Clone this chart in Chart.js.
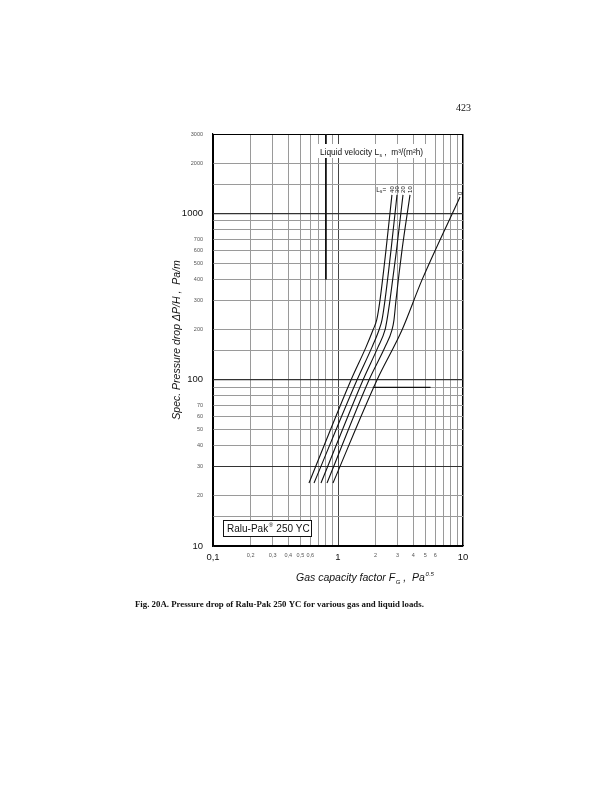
<!DOCTYPE html>
<html>
<head>
<meta charset="utf-8">
<script src="https://cdn.jsdelivr.net/npm/chart.js@4.4.1/dist/chart.umd.min.js"></script>
<style>
   html, body { margin: 0; padding: 0; background: #fff; }
   #wrap { position: relative; width: 612px; height: 800px; }
</style>
</head>
<body>
<div id="wrap"><canvas id="grafico" width="612" height="800"></canvas></div>
<script>
// values: gas capacity factor F_G (Pa^0.5) vs spec. pressure drop (Pa/m)
const liquidLoads = ['40', '30', '20', '10', '0'];

const gasL40 = [0.586, 1.271, 1.675, 1.905, 2.04, 2.168, 2.42, 2.70];
const dpL40  = [23.9, 99.6, 157, 199, 229, 301, 601, 1291];

const gasL30 = [0.643, 1.419, 1.871, 2.128, 2.249, 2.377, 2.655, 2.965];
const dpL30  = [23.9, 99.6, 157, 199, 229, 301, 601, 1291];

const gasL20 = [0.731, 1.585, 2.089, 2.377, 2.466, 2.606, 2.938, 3.311];
const dpL20  = [23.9, 99.6, 157, 199, 229, 301, 601, 1291];

const gasL10 = [0.817, 1.770, 2.377, 2.704, 2.805, 2.911, 3.251, 3.767];
const dpL10  = [23.9, 99.6, 157, 199, 229, 301, 601, 1291];

const gasL0 = [0.912, 2.051, 3.251, 4.699, 9.462];
const dpL0  = [23.9, 99.6, 199, 398, 1255];

// axes
const xGrid = [0.1, 0.2, 0.3, 0.4, 0.5, 0.6, 0.7, 0.8, 0.9, 1, 2, 3, 4, 5, 6, 7, 8, 9, 10];
const xTickValues = [0.1, 0.2, 0.3, 0.4, 0.5, 0.6, 1, 2, 3, 4, 5, 6, 10];
const xTickLabels = ['0,1', '0,2', '0,3', '0,4', '0,5', '0,6', '1', '2', '3', '4', '5', '6', '10'];
const xBigTicks = [0.1, 1, 10];

const yGrid = [10, 15, 20, 30, 40, 50, 60, 70, 80, 90, 100, 150, 200, 300, 400, 500, 600, 700, 800, 900, 1000, 1500, 2000, 3000];
const yTickValues = [10, 20, 30, 40, 50, 60, 70, 100, 200, 300, 400, 500, 600, 700, 1000, 2000, 3000];
const yTickLabels = ['10', '20', '30', '40', '50', '60', '70', '100', '200', '300', '400', '500', '600', '700', '1000', '2000', '3000'];
const yBigTicks = [10, 100, 1000];

function same(a, b) { return Math.abs(a - b) < 1e-9 * Math.max(1, b); }
function labelFor(v, vals, labels) {
   const i = vals.findIndex(t => same(v, t));
   return i < 0 ? '' : labels[i];
}
function toPoints(xs, ys) { return xs.map((x, i) => ({ x: x, y: ys[i] })); }

const series = [
   toPoints(gasL40, dpL40),
   toPoints(gasL30, dpL30),
   toPoints(gasL20, dpL20),
   toPoints(gasL10, dpL10),
   toPoints(gasL0, dpL0)
];

const SANS = '"Liberation Sans", Arial, sans-serif';
const SERIF = '"Liberation Serif", "Times New Roman", serif';

const extras = {
   id: 'extras',
   beforeDatasetsDraw(chart) {
      const { ctx, chartArea, scales } = chart;
      // heavier 0,8 line in the upper part of the sheet
      const x08 = scales.x.getPixelForValue(0.8);
      ctx.save();
      ctx.strokeStyle = '#111';
      ctx.lineWidth = 1.8;
      ctx.beginPath();
      ctx.moveTo(x08, chartArea.top);
      ctx.lineTo(x08, scales.y.getPixelForValue(400));
      ctx.stroke();
      // darker piece of the 90 line
      const y90 = scales.y.getPixelForValue(90);
      ctx.lineWidth = 1.2;
      ctx.beginPath();
      ctx.moveTo(scales.x.getPixelForValue(1.9), y90);
      ctx.lineTo(scales.x.getPixelForValue(5.5), y90);
      ctx.stroke();
      ctx.restore();
   },
   afterDraw(chart) {
      const { ctx, chartArea, scales } = chart;
      ctx.save();
      ctx.fillStyle = '#111';

      // page number
      ctx.font = '10px ' + SERIF;
      ctx.textAlign = 'right';
      ctx.textBaseline = 'alphabetic';
      ctx.fillText('423', 471, 111);

      // caption
      ctx.font = 'bold 8.8px ' + SERIF;
      ctx.textAlign = 'left';
      ctx.fillText('Fig. 20A. Pressure drop of Ralu-Pak 250 YC for various gas and liquid loads.', 135, 607);

      // y axis title
      ctx.save();
      ctx.translate(180, (chartArea.top + chartArea.bottom) / 2);
      ctx.rotate(-Math.PI / 2);
      ctx.font = 'italic 10.5px ' + SANS;
      ctx.textAlign = 'center';
      ctx.fillText('Spec. Pressure drop \u0394P/H ,  Pa/m', 0, 0);
      ctx.restore();

      // x axis title with sub/superscript
      let x = 296;
      const yb = 581;
      ctx.textAlign = 'left';
      ctx.font = 'italic 10.5px ' + SANS;
      ctx.fillText('Gas capacity factor F', x, yb);
      x += ctx.measureText('Gas capacity factor F').width;
      ctx.font = 'italic 6px ' + SANS;
      ctx.fillText('G', x + 0.5, yb + 2.5);
      x += ctx.measureText('G').width + 0.5;
      ctx.font = 'italic 10.5px ' + SANS;
      ctx.fillText(' ,  Pa', x, yb);
      x += ctx.measureText(' ,  Pa').width;
      ctx.font = 'italic 6px ' + SANS;
      ctx.fillText('0.5', x + 0.5, yb - 5);

      // liquid velocity box
      const bx = 318, by = 144;
      ctx.fillStyle = '#fff';
      ctx.fillRect(bx, by, 110, 14);
      ctx.fillStyle = '#111';
      ctx.font = '8.3px ' + SANS;
      let lx = bx + 2;
      ctx.fillText('Liquid velocity L', lx, by + 10.5);
      lx += ctx.measureText('Liquid velocity L').width;
      ctx.font = '5px ' + SANS;
      ctx.fillText('s', lx + 0.5, by + 12.5);
      lx += ctx.measureText('s').width + 0.5;
      ctx.font = '8.3px ' + SANS;
      ctx.fillText(' ,  m\u00b3/(m\u00b2h)', lx, by + 10.5);

      // Ralu-Pak box
      const rx = 223, ry = 520, rw = 88, rh = 16;
      ctx.fillStyle = '#fff';
      ctx.fillRect(rx, ry, rw, rh);
      ctx.strokeStyle = '#111';
      ctx.lineWidth = 1;
      ctx.strokeRect(rx + 0.5, ry + 0.5, rw, rh);
      ctx.fillStyle = '#111';
      ctx.font = '10px ' + SANS;
      let px = rx + 4;
      ctx.fillText('Ralu-Pak', px, ry + 12);
      px += ctx.measureText('Ralu-Pak').width;
      ctx.font = '6px ' + SANS;
      ctx.fillText('\u00ae', px + 0.5, ry + 7);
      px += ctx.measureText('\u00ae').width + 1;
      ctx.font = '10px ' + SANS;
      ctx.fillText(' 250 YC', px, ry + 12);

      // curve labels at the top ends
      ctx.font = '6px ' + SANS;
      chart.data.datasets.forEach((ds, i) => {
         const meta = chart.getDatasetMeta(i);
         const last = meta.data[meta.data.length - 1];
         ctx.save();
         ctx.translate(last.x + 2, last.y - 2);
         ctx.rotate(-Math.PI / 2);
         ctx.textAlign = 'left';
         ctx.fillText(liquidLoads[i], 0, 0);
         ctx.restore();
      });
      const first = chart.getDatasetMeta(0).data;
      const top40 = first[first.length - 1];
      ctx.font = '6.5px ' + SANS;
      ctx.textAlign = 'right';
      ctx.fillText('L', top40.x - 12, top40.y - 3);
      ctx.font = '4.5px ' + SANS;
      ctx.textAlign = 'left';
      ctx.fillText('s', top40.x - 12, top40.y - 1.5);
      ctx.font = '6.5px ' + SANS;
      ctx.fillText('=', top40.x - 9.5, top40.y - 3);

      ctx.restore();
   }
};

const ctx = document.getElementById('grafico').getContext('2d');
new Chart(ctx, {
   type: 'line',
   data: {
      datasets: series.map((pts, i) => ({
         label: 'L = ' + liquidLoads[i],
         data: pts,
         borderColor: '#111',
         borderWidth: 1.1,
         pointRadius: 0,
         fill: false,
         cubicInterpolationMode: 'monotone'
      }))
   },
   options: {
      responsive: false,
      animation: false,
      events: [],
      layout: { padding: { top: 134, right: 149, left: 0, bottom: 0 } },
      plugins: {
         legend: { display: false },
         tooltip: { enabled: false },
         title: { display: false }
      },
      scales: {
         x: {
            type: 'logarithmic',
            min: 0.1,
            max: 10,
            afterBuildTicks: s => { s.ticks = xGrid.map(v => ({ value: v })); },
            afterFit: s => { s.height = 254; },
            ticks: {
               autoSkip: false,
               maxRotation: 0,
               padding: 6,
               color: c => xBigTicks.some(v => same(c.tick.value, v)) ? '#111' : '#555',
               font: c => xBigTicks.some(v => same(c.tick.value, v))
                  ? { family: SANS, size: 9.5 }
                  : { family: SANS, size: 5.5 },
               callback: v => labelFor(v, xTickValues, xTickLabels)
            },
            grid: {
               drawTicks: false,
               color: c => {
                  const v = c.tick ? c.tick.value : 0;
                  if (same(v, 10) || same(v, 0.1)) return '#000';
                  if (same(v, 1)) return '#444';
                  return '#9a9a9a';
               },
               lineWidth: c => (c.tick && same(c.tick.value, 10)) ? 1.5 : 1
            },
            border: { display: true, color: '#000', width: 1.2 }
         },
         y: {
            type: 'logarithmic',
            min: 10,
            max: 3000,
            afterBuildTicks: s => { s.ticks = yGrid.map(v => ({ value: v })); },
            afterFit: s => { s.width = 213; },
            ticks: {
               autoSkip: false,
               padding: 10,
               color: c => yBigTicks.some(v => same(c.tick.value, v)) ? '#111' : '#555',
               font: c => yBigTicks.some(v => same(c.tick.value, v))
                  ? { family: SANS, size: 9.5 }
                  : { family: SANS, size: 5.5 },
               callback: v => labelFor(v, yTickValues, yTickLabels)
            },
            grid: {
               drawTicks: false,
               color: c => {
                  const v = c.tick ? c.tick.value : 0;
                  if (same(v, 3000) || same(v, 10)) return '#000';
                  if (same(v, 100) || same(v, 1000) || same(v, 30)) return '#333';
                  return '#9a9a9a';
               },
               lineWidth: c => {
                  const v = c.tick ? c.tick.value : 0;
                  return (same(v, 100) || same(v, 1000)) ? 1.3 : 1;
               }
            },
            border: { display: true, color: '#000', width: 1.2 }
         }
      }
   },
   plugins: [extras]
});
</script>
</body>
</html>
